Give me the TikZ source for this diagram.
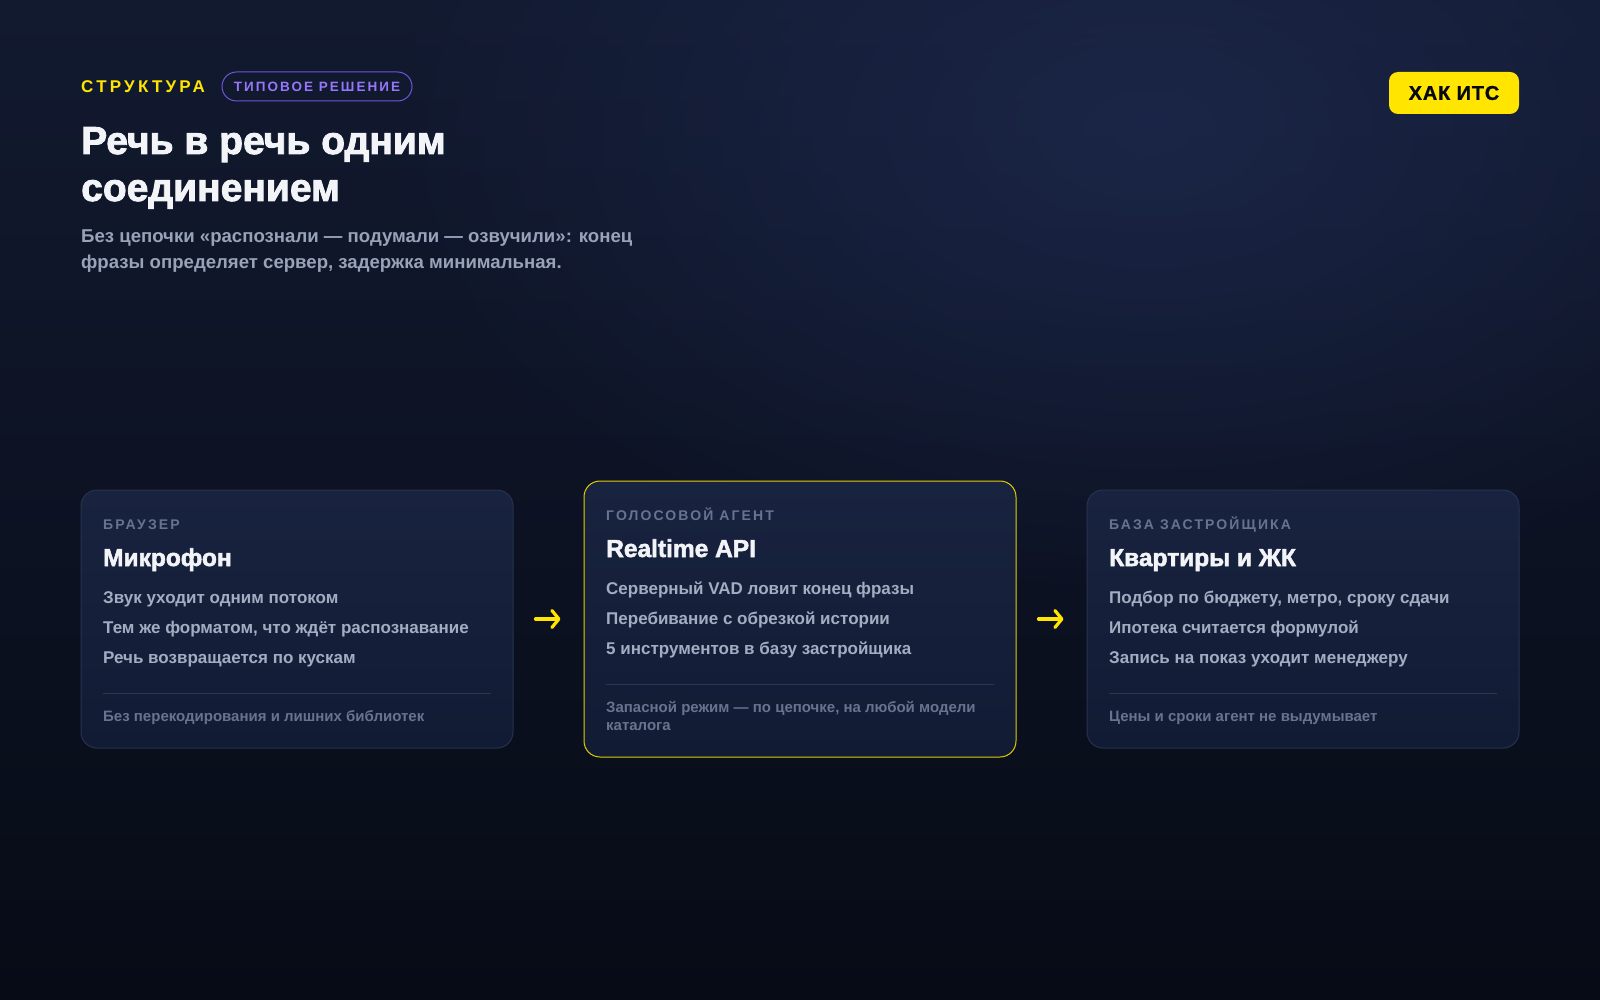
\documentclass[tikz,border=0pt]{standalone}
\usepackage{fontspec}
\setmainfont{Liberation Sans}
\newfontfamily\trackfont[LetterSpace=15]{Liberation Sans}
\newfontfamily\kickerfont[LetterSpace=19]{Liberation Sans}
\newfontfamily\heavyfont[FakeBold=2.2]{Liberation Sans Bold}
\newfontfamily\badgefont[FakeBold=1, LetterSpace=4]{Liberation Sans Bold}
\usetikzlibrary{arrows.meta,fadings}

\definecolor{bgtop}{HTML}{121A30}
\definecolor{bgbot}{HTML}{070B16}
\definecolor{glow}{HTML}{1F2B52}
\definecolor{cardtop}{HTML}{18233F}
\definecolor{cardbot}{HTML}{121B34}
\definecolor{cardline}{HTML}{27324F}
\definecolor{accent}{HTML}{FFE500}
\definecolor{violet}{HTML}{7054DC}
\definecolor{violettext}{HTML}{9676FA}
\definecolor{titlec}{HTML}{F2F4F8}
\definecolor{subc}{HTML}{98A2B8}
\definecolor{mutedc}{HTML}{687390}
\definecolor{itemc}{HTML}{A3ADC2}
\definecolor{rulec}{HTML}{2A3655}

\tikzfading[name=softglow, inner color=transparent!30, outer color=transparent!100]

\begin{document}
\begin{tikzpicture}[x=1pt, y=-1pt,
  txt/.style={anchor=base west, inner sep=0},
  kicker/.style={txt, text=accent, font=\kickerfont\bfseries\fontsize{17}{20}\selectfont},
  headline/.style={txt, text=titlec, font=\heavyfont\fontsize{39}{47}\selectfont},
  lead/.style={txt, text=subc, font=\bfseries\fontsize{18.6}{26}\selectfont},
  card/.style={rounded corners=16, top color=cardtop, bottom color=cardbot, draw=cardline,
    line width=1, minimum width=432, minimum height=258, inner sep=0},
  cardlbl/.style={txt, text=mutedc, font=\trackfont\bfseries\fontsize{14}{16}\selectfont},
  cardttl/.style={txt, text=titlec, font=\heavyfont\fontsize{24.5}{28}\selectfont},
  item/.style={txt, text=itemc, font=\bfseries\fontsize{17}{20}\selectfont},
  note/.style={txt, text=mutedc, font=\bfseries\fontsize{15}{18}\selectfont},
  rule/.style={draw=rulec, line width=1},
  flow/.style={accent, line width=3.2, line cap=round,
    -{Straight Barb[length=7, width=17, line cap=round, line join=round]},
    shorten <=22, shorten >=23}]

% background
\useasboundingbox (0,0) rectangle (1600,1000);
\shade[top color=bgtop, bottom color=bgbot] (0,0) rectangle (1600,1000);
\fill[glow, path fading=softglow] (1150,130) ellipse (780 and 480);

% header
\node[kicker] (kicker) at (81,93) {СТРУКТУРА};
\node[draw=violet, line width=1, rounded corners=14.5, minimum width=190, minimum height=29,
  text=violettext, font=\trackfont\bfseries\fontsize{13.5}{16}\selectfont] (tag) at (317,86.5) {ТИПОВОЕ РЕШЕНИЕ};
\node[fill=accent, rounded corners=9, minimum width=130, minimum height=42, inner sep=0,
  text=bgbot!80!black, font=\badgefont\fontsize{20}{24}\selectfont] (badge) at (1454,93) {ХАК ИТС};

\node[headline] (title1) at (81,154) {Речь в речь одним};
\node[headline] (title2) at (81,201) {соединением};
\node[lead] (lead1) at (81,243) {Без цепочки «распознали — подумали — озвучили»: конец};
\node[lead] (lead2) at (81,269) {фразы определяет сервер, задержка минимальная.};

% cards
\node[card] (mic) at (297,619) {};
\node[card, draw=accent!88!cardbot, minimum height=276] (api) at (800,619) {};
\node[card] (flats) at (1303,619) {};

\draw[flow] (mic) -- (api);
\draw[flow] (api) -- (flats);

% browser
\node[cardlbl] (mic-lbl) at (103,529) {БРАУЗЕР};
\node[cardttl] (mic-ttl) at (103,566) {Микрофон};
\node[item] (mic-a) at (103,603) {Звук уходит одним потоком};
\node[item] (mic-b) at (103,633) {Тем же форматом, что ждёт распознавание};
\node[item] (mic-c) at (103,663) {Речь возвращается по кускам};
\draw[rule] (103,693) -- (491,693);
\node[note] (mic-n) at (103,721) {Без перекодирования и лишних библиотек};

% voice agent
\node[cardlbl] (api-lbl) at (606,520) {ГОЛОСОВОЙ АГЕНТ};
\node[cardttl] (api-ttl) at (606,557) {Realtime API};
\node[item] (api-a) at (606,594) {Серверный VAD ловит конец фразы};
\node[item] (api-b) at (606,624) {Перебивание с обрезкой истории};
\node[item] (api-c) at (606,654) {5 инструментов в базу застройщика};
\draw[rule] (606,684) -- (994,684);
\node[note] (api-n1) at (606,712) {Запасной режим — по цепочке, на любой модели};
\node[note] (api-n2) at (606,730) {каталога};

% developer base
\node[cardlbl] (flats-lbl) at (1109,529) {БАЗА ЗАСТРОЙЩИКА};
\node[cardttl] (flats-ttl) at (1109,566) {Квартиры и ЖК};
\node[item] (flats-a) at (1109,603) {Подбор по бюджету, метро, сроку сдачи};
\node[item] (flats-b) at (1109,633) {Ипотека считается формулой};
\node[item] (flats-c) at (1109,663) {Запись на показ уходит менеджеру};
\draw[rule] (1109,693) -- (1497,693);
\node[note] (flats-n) at (1109,721) {Цены и сроки агент не выдумывает};
\end{tikzpicture}
\end{document}
